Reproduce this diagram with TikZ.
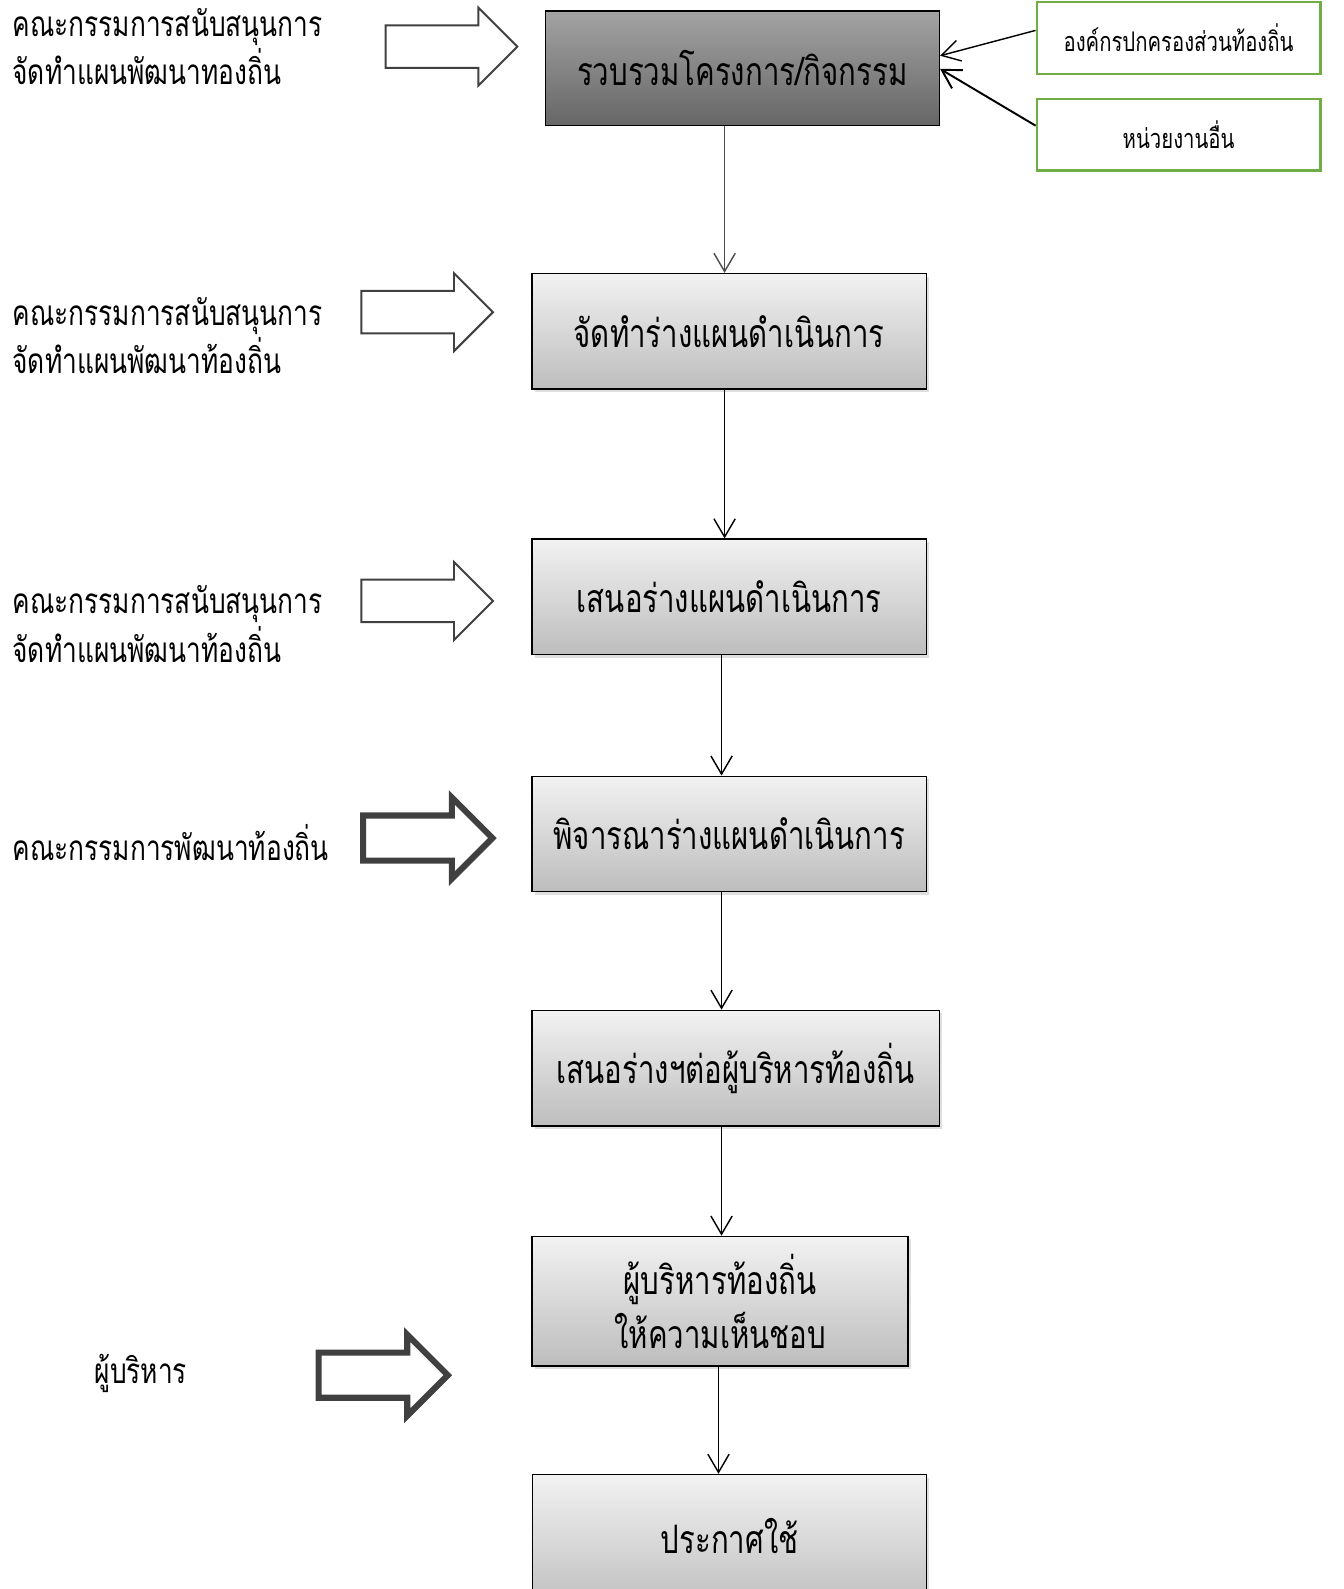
\documentclass[tikz,border=0pt]{standalone}
\usepackage{fontspec}
\newfontfamily\thaifont[Script=Thai, FakeStretch=0.75]{Loma}
\usetikzlibrary{positioning,shapes.arrows,shadows,arrows.meta}

\definecolor{boxtop}{HTML}{F2F2F2}
\definecolor{boxbot}{HTML}{BDBDBD}
\definecolor{darktop}{HTML}{A3A3A3}
\definecolor{darkbot}{HTML}{666666}
\definecolor{srcgreen}{HTML}{70AD47}
\definecolor{fatgray}{HTML}{404040}

\tikzset{
	stage/.style={draw, line width=0.8pt, top color=boxtop, bottom color=boxbot,
		drop shadow={opacity=0.25, shadow xshift=0.05cm, shadow yshift=-0.06cm},
		minimum width=7.78cm, minimum height=2.28cm, align=center,
		font=\thaifont\fontsize{22}{30.5}\selectfont},
	darkstage/.style={draw, line width=0.8pt, top color=darktop, bottom color=darkbot,
		minimum width=7.78cm, minimum height=2.26cm,
		font=\thaifont\fontsize{22}{30.5}\selectfont},
	source/.style={draw=srcgreen, line width=1.3pt, minimum width=5.6cm,
		minimum height=1.41cm, font=\thaifont\fontsize{15.2}{18}\selectfont},
	who/.style={anchor=west, align=left, inner sep=0pt,
		font=\thaifont\fontsize{19.7}{27.3}\selectfont},
	fatarrow/.style={single arrow, draw=fatgray, fill=white, line width=1.1pt,
		minimum height=2.6cm, minimum width=1.5cm, inner sep=0.4cm,
		single arrow head extend=0.35cm},
	boldarrow/.style={fatarrow, line width=3.4pt, minimum width=1.6cm,
		minimum height=2.55cm, inner sep=0.38cm},
	flow/.style={-{Straight Barb[length=0.36cm, width=0.42cm]}, line width=0.8pt}
}

\begin{document}
\begin{tikzpicture}[x=0.02cm, y=-0.02cm]
% the page comes out one 12pt line taller than this box
\useasboundingbox (0,0) rectangle (1326,1568);

% process boxes
\node[darkstage] (b1) at (732.5,67.5) {รวบรวมโครงการ/กิจกรรม};
\node[stage] (b2) at (719.5,327) {จัดทำร่างแผนดำเนินการ};
\node[stage] (b3) at (719.5,589) {เสนอร่างแผนดำเนินการ};
\node[stage] (b4) at (719.5,823) {พิจารณาร่างแผนดำเนินการ};
\node[stage, minimum width=8.04cm] (b5) at (726,1054) {เสนอร่างฯต่อผู้บริหารท้องถิ่น};
\node[stage, minimum width=7.42cm, minimum height=2.56cm] (b6) at (710.5,1284)
	{ผู้บริหารท้องถิ่น\\ให้ความเห็นชอบ};
\node[stage, minimum height=2.72cm, text depth=0.3cm] (b7) at (720,1523) {ประกาศใช้};

% sources
\node[source] (g1) at (1163,37.5) {องค์กรปกครองส่วนท้องถิ่น};
\node[source] (g2) at (1163,133) {หน่วยงานอื่น};

% who does it
\node[who] (w1) at (12,46) {คณะกรรมการสนับสนุนการ\\จัดทำแผนพัฒนาทองถิ่น};
\node[who] (w2) at (12,331) {คณะกรรมการสนับสนุนการ\\จัดทำแผนพัฒนาท้องถิ่น};
\node[who] (w3) at (12,616) {คณะกรรมการสนับสนุนการ\\จัดทำแผนพัฒนาท้องถิ่น};
\node[who] (w4) at (12,831) {คณะกรรมการพัฒนาท้องถิ่น};
\node[who] (w5) at (93,1355) {ผู้บริหาร};

% block arrows
\node[fatarrow] (a1) at (435,46) {};
\node[fatarrow] (a2) at (411,308) {};
\node[fatarrow] (a3) at (411,593) {};
\node[boldarrow] (a4) at (411,827) {};
\node[boldarrow] (a5) at (367,1357) {};

% connectors
\draw[flow, draw=black!70] (b1.south -| 715,0) -- (b2.north -| 715,0);
\draw[flow] (b2.south -| 715,0) -- (b3.north -| 715,0);
\draw[flow] (b3.south -| 712,0) -- (b4.north -| 712,0);
\draw[flow] (b4.south -| 712,0) -- (b5.north -| 712,0);
\draw[flow] (b5.south -| 712,0) -- (b6.north -| 712,0);
\draw[flow] (b6.south -| 709,0) -- (b7.north -| 709,0);
\draw[flow] (g1.west |- 0,30) -- (b1.east |- 0,55);
\draw[flow, line width=1.1pt] (g2.west |- 0,124) -- (b1.east |- 0,68);
\end{tikzpicture}
\end{document}
